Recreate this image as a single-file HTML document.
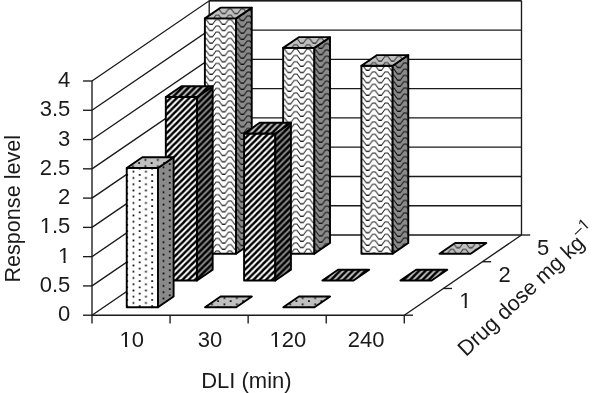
<!DOCTYPE html>
<html><head><meta charset="utf-8"><style>
html,body{margin:0;padding:0;background:#fff;}
svg{display:block;will-change:transform;}
text{font-family:"Liberation Sans", sans-serif;font-size:22px;fill:#1a1a1a;}
</style></head><body>
<svg width="600" height="393" viewBox="0 0 600 393">
<defs>
<pattern id="p1" patternUnits="userSpaceOnUse" x="211.13" y="19.65" width="12.5" height="6.25"><rect width="12.5" height="6.25" fill="#ffffff"/><polyline points="-13.90,-1.49 -11.10,-1.49 -7.65,-6.25 -4.85,-6.25 -1.40,-1.49 1.40,-1.49" fill="none" stroke="#0a0a0a" stroke-width="0.9"/><polyline points="-1.40,-1.49 1.40,-1.49 4.85,-6.25 7.65,-6.25 11.10,-1.49 13.90,-1.49" fill="none" stroke="#0a0a0a" stroke-width="0.9"/><polyline points="11.10,-1.49 13.90,-1.49 17.35,-6.25 20.15,-6.25 23.60,-1.49 26.40,-1.49" fill="none" stroke="#0a0a0a" stroke-width="0.9"/><polyline points="-13.90,4.76 -11.10,4.76 -7.65,0.00 -4.85,0.00 -1.40,4.76 1.40,4.76" fill="none" stroke="#0a0a0a" stroke-width="0.9"/><polyline points="-1.40,4.76 1.40,4.76 4.85,0.00 7.65,0.00 11.10,4.76 13.90,4.76" fill="none" stroke="#0a0a0a" stroke-width="0.9"/><polyline points="11.10,4.76 13.90,4.76 17.35,0.00 20.15,0.00 23.60,4.76 26.40,4.76" fill="none" stroke="#0a0a0a" stroke-width="0.9"/><polyline points="-13.90,11.01 -11.10,11.01 -7.65,6.25 -4.85,6.25 -1.40,11.01 1.40,11.01" fill="none" stroke="#0a0a0a" stroke-width="0.9"/><polyline points="-1.40,11.01 1.40,11.01 4.85,6.25 7.65,6.25 11.10,11.01 13.90,11.01" fill="none" stroke="#0a0a0a" stroke-width="0.9"/><polyline points="11.10,11.01 13.90,11.01 17.35,6.25 20.15,6.25 23.60,11.01 26.40,11.01" fill="none" stroke="#0a0a0a" stroke-width="0.9"/></pattern>
<pattern id="p2" patternUnits="userSpaceOnUse" x="242.36" y="9.66" width="12.5" height="6.25"><rect width="12.5" height="6.25" fill="#8a8a8a"/><polyline points="-13.90,-1.49 -11.10,-1.49 -7.65,-6.25 -4.85,-6.25 -1.40,-1.49 1.40,-1.49" fill="none" stroke="#000" stroke-width="0.9"/><polyline points="-1.40,-1.49 1.40,-1.49 4.85,-6.25 7.65,-6.25 11.10,-1.49 13.90,-1.49" fill="none" stroke="#000" stroke-width="0.9"/><polyline points="11.10,-1.49 13.90,-1.49 17.35,-6.25 20.15,-6.25 23.60,-1.49 26.40,-1.49" fill="none" stroke="#000" stroke-width="0.9"/><polyline points="-13.90,4.76 -11.10,4.76 -7.65,0.00 -4.85,0.00 -1.40,4.76 1.40,4.76" fill="none" stroke="#000" stroke-width="0.9"/><polyline points="-1.40,4.76 1.40,4.76 4.85,0.00 7.65,0.00 11.10,4.76 13.90,4.76" fill="none" stroke="#000" stroke-width="0.9"/><polyline points="11.10,4.76 13.90,4.76 17.35,0.00 20.15,0.00 23.60,4.76 26.40,4.76" fill="none" stroke="#000" stroke-width="0.9"/><polyline points="-13.90,11.01 -11.10,11.01 -7.65,6.25 -4.85,6.25 -1.40,11.01 1.40,11.01" fill="none" stroke="#000" stroke-width="0.9"/><polyline points="-1.40,11.01 1.40,11.01 4.85,6.25 7.65,6.25 11.10,11.01 13.90,11.01" fill="none" stroke="#000" stroke-width="0.9"/><polyline points="11.10,11.01 13.90,11.01 17.35,6.25 20.15,6.25 23.60,11.01 26.40,11.01" fill="none" stroke="#000" stroke-width="0.9"/></pattern>
<pattern id="p3" patternUnits="userSpaceOnUse" x="211.13" y="8.96" width="12.5" height="6.25"><rect width="12.5" height="6.25" fill="#c0c0c0"/><polyline points="-13.90,-1.49 -11.10,-1.49 -7.65,-6.25 -4.85,-6.25 -1.40,-1.49 1.40,-1.49" fill="none" stroke="#222" stroke-width="0.9"/><polyline points="-1.40,-1.49 1.40,-1.49 4.85,-6.25 7.65,-6.25 11.10,-1.49 13.90,-1.49" fill="none" stroke="#222" stroke-width="0.9"/><polyline points="11.10,-1.49 13.90,-1.49 17.35,-6.25 20.15,-6.25 23.60,-1.49 26.40,-1.49" fill="none" stroke="#222" stroke-width="0.9"/><polyline points="-13.90,4.76 -11.10,4.76 -7.65,0.00 -4.85,0.00 -1.40,4.76 1.40,4.76" fill="none" stroke="#222" stroke-width="0.9"/><polyline points="-1.40,4.76 1.40,4.76 4.85,0.00 7.65,0.00 11.10,4.76 13.90,4.76" fill="none" stroke="#222" stroke-width="0.9"/><polyline points="11.10,4.76 13.90,4.76 17.35,0.00 20.15,0.00 23.60,4.76 26.40,4.76" fill="none" stroke="#222" stroke-width="0.9"/><polyline points="-13.90,11.01 -11.10,11.01 -7.65,6.25 -4.85,6.25 -1.40,11.01 1.40,11.01" fill="none" stroke="#222" stroke-width="0.9"/><polyline points="-1.40,11.01 1.40,11.01 4.85,6.25 7.65,6.25 11.10,11.01 13.90,11.01" fill="none" stroke="#222" stroke-width="0.9"/><polyline points="11.10,11.01 13.90,11.01 17.35,6.25 20.15,6.25 23.60,11.01 26.40,11.01" fill="none" stroke="#222" stroke-width="0.9"/></pattern>
<pattern id="p4" patternUnits="userSpaceOnUse" x="289.40" y="49.16" width="12.5" height="6.25"><rect width="12.5" height="6.25" fill="#ffffff"/><polyline points="-13.90,-1.49 -11.10,-1.49 -7.65,-6.25 -4.85,-6.25 -1.40,-1.49 1.40,-1.49" fill="none" stroke="#0a0a0a" stroke-width="0.9"/><polyline points="-1.40,-1.49 1.40,-1.49 4.85,-6.25 7.65,-6.25 11.10,-1.49 13.90,-1.49" fill="none" stroke="#0a0a0a" stroke-width="0.9"/><polyline points="11.10,-1.49 13.90,-1.49 17.35,-6.25 20.15,-6.25 23.60,-1.49 26.40,-1.49" fill="none" stroke="#0a0a0a" stroke-width="0.9"/><polyline points="-13.90,4.76 -11.10,4.76 -7.65,0.00 -4.85,0.00 -1.40,4.76 1.40,4.76" fill="none" stroke="#0a0a0a" stroke-width="0.9"/><polyline points="-1.40,4.76 1.40,4.76 4.85,0.00 7.65,0.00 11.10,4.76 13.90,4.76" fill="none" stroke="#0a0a0a" stroke-width="0.9"/><polyline points="11.10,4.76 13.90,4.76 17.35,0.00 20.15,0.00 23.60,4.76 26.40,4.76" fill="none" stroke="#0a0a0a" stroke-width="0.9"/><polyline points="-13.90,11.01 -11.10,11.01 -7.65,6.25 -4.85,6.25 -1.40,11.01 1.40,11.01" fill="none" stroke="#0a0a0a" stroke-width="0.9"/><polyline points="-1.40,11.01 1.40,11.01 4.85,6.25 7.65,6.25 11.10,11.01 13.90,11.01" fill="none" stroke="#0a0a0a" stroke-width="0.9"/><polyline points="11.10,11.01 13.90,11.01 17.35,6.25 20.15,6.25 23.60,11.01 26.40,11.01" fill="none" stroke="#0a0a0a" stroke-width="0.9"/></pattern>
<pattern id="p5" patternUnits="userSpaceOnUse" x="320.63" y="37.47" width="12.5" height="6.25"><rect width="12.5" height="6.25" fill="#8a8a8a"/><polyline points="-13.90,-1.49 -11.10,-1.49 -7.65,-6.25 -4.85,-6.25 -1.40,-1.49 1.40,-1.49" fill="none" stroke="#000" stroke-width="0.9"/><polyline points="-1.40,-1.49 1.40,-1.49 4.85,-6.25 7.65,-6.25 11.10,-1.49 13.90,-1.49" fill="none" stroke="#000" stroke-width="0.9"/><polyline points="11.10,-1.49 13.90,-1.49 17.35,-6.25 20.15,-6.25 23.60,-1.49 26.40,-1.49" fill="none" stroke="#000" stroke-width="0.9"/><polyline points="-13.90,4.76 -11.10,4.76 -7.65,0.00 -4.85,0.00 -1.40,4.76 1.40,4.76" fill="none" stroke="#000" stroke-width="0.9"/><polyline points="-1.40,4.76 1.40,4.76 4.85,0.00 7.65,0.00 11.10,4.76 13.90,4.76" fill="none" stroke="#000" stroke-width="0.9"/><polyline points="11.10,4.76 13.90,4.76 17.35,0.00 20.15,0.00 23.60,4.76 26.40,4.76" fill="none" stroke="#000" stroke-width="0.9"/><polyline points="-13.90,11.01 -11.10,11.01 -7.65,6.25 -4.85,6.25 -1.40,11.01 1.40,11.01" fill="none" stroke="#000" stroke-width="0.9"/><polyline points="-1.40,11.01 1.40,11.01 4.85,6.25 7.65,6.25 11.10,11.01 13.90,11.01" fill="none" stroke="#000" stroke-width="0.9"/><polyline points="11.10,11.01 13.90,11.01 17.35,6.25 20.15,6.25 23.60,11.01 26.40,11.01" fill="none" stroke="#000" stroke-width="0.9"/></pattern>
<pattern id="p6" patternUnits="userSpaceOnUse" x="289.40" y="38.47" width="12.5" height="6.25"><rect width="12.5" height="6.25" fill="#c0c0c0"/><polyline points="-13.90,-1.49 -11.10,-1.49 -7.65,-6.25 -4.85,-6.25 -1.40,-1.49 1.40,-1.49" fill="none" stroke="#222" stroke-width="0.9"/><polyline points="-1.40,-1.49 1.40,-1.49 4.85,-6.25 7.65,-6.25 11.10,-1.49 13.90,-1.49" fill="none" stroke="#222" stroke-width="0.9"/><polyline points="11.10,-1.49 13.90,-1.49 17.35,-6.25 20.15,-6.25 23.60,-1.49 26.40,-1.49" fill="none" stroke="#222" stroke-width="0.9"/><polyline points="-13.90,4.76 -11.10,4.76 -7.65,0.00 -4.85,0.00 -1.40,4.76 1.40,4.76" fill="none" stroke="#222" stroke-width="0.9"/><polyline points="-1.40,4.76 1.40,4.76 4.85,0.00 7.65,0.00 11.10,4.76 13.90,4.76" fill="none" stroke="#222" stroke-width="0.9"/><polyline points="11.10,4.76 13.90,4.76 17.35,0.00 20.15,0.00 23.60,4.76 26.40,4.76" fill="none" stroke="#222" stroke-width="0.9"/><polyline points="-13.90,11.01 -11.10,11.01 -7.65,6.25 -4.85,6.25 -1.40,11.01 1.40,11.01" fill="none" stroke="#222" stroke-width="0.9"/><polyline points="-1.40,11.01 1.40,11.01 4.85,6.25 7.65,6.25 11.10,11.01 13.90,11.01" fill="none" stroke="#222" stroke-width="0.9"/><polyline points="11.10,11.01 13.90,11.01 17.35,6.25 20.15,6.25 23.60,11.01 26.40,11.01" fill="none" stroke="#222" stroke-width="0.9"/></pattern>
<pattern id="p7" patternUnits="userSpaceOnUse" x="367.67" y="65.58" width="12.5" height="6.25"><rect width="12.5" height="6.25" fill="#ffffff"/><polyline points="-13.90,-1.49 -11.10,-1.49 -7.65,-6.25 -4.85,-6.25 -1.40,-1.49 1.40,-1.49" fill="none" stroke="#0a0a0a" stroke-width="0.9"/><polyline points="-1.40,-1.49 1.40,-1.49 4.85,-6.25 7.65,-6.25 11.10,-1.49 13.90,-1.49" fill="none" stroke="#0a0a0a" stroke-width="0.9"/><polyline points="11.10,-1.49 13.90,-1.49 17.35,-6.25 20.15,-6.25 23.60,-1.49 26.40,-1.49" fill="none" stroke="#0a0a0a" stroke-width="0.9"/><polyline points="-13.90,4.76 -11.10,4.76 -7.65,0.00 -4.85,0.00 -1.40,4.76 1.40,4.76" fill="none" stroke="#0a0a0a" stroke-width="0.9"/><polyline points="-1.40,4.76 1.40,4.76 4.85,0.00 7.65,0.00 11.10,4.76 13.90,4.76" fill="none" stroke="#0a0a0a" stroke-width="0.9"/><polyline points="11.10,4.76 13.90,4.76 17.35,0.00 20.15,0.00 23.60,4.76 26.40,4.76" fill="none" stroke="#0a0a0a" stroke-width="0.9"/><polyline points="-13.90,11.01 -11.10,11.01 -7.65,6.25 -4.85,6.25 -1.40,11.01 1.40,11.01" fill="none" stroke="#0a0a0a" stroke-width="0.9"/><polyline points="-1.40,11.01 1.40,11.01 4.85,6.25 7.65,6.25 11.10,11.01 13.90,11.01" fill="none" stroke="#0a0a0a" stroke-width="0.9"/><polyline points="11.10,11.01 13.90,11.01 17.35,6.25 20.15,6.25 23.60,11.01 26.40,11.01" fill="none" stroke="#0a0a0a" stroke-width="0.9"/></pattern>
<pattern id="p8" patternUnits="userSpaceOnUse" x="398.90" y="56.68" width="12.5" height="6.25"><rect width="12.5" height="6.25" fill="#8a8a8a"/><polyline points="-13.90,-1.49 -11.10,-1.49 -7.65,-6.25 -4.85,-6.25 -1.40,-1.49 1.40,-1.49" fill="none" stroke="#000" stroke-width="0.9"/><polyline points="-1.40,-1.49 1.40,-1.49 4.85,-6.25 7.65,-6.25 11.10,-1.49 13.90,-1.49" fill="none" stroke="#000" stroke-width="0.9"/><polyline points="11.10,-1.49 13.90,-1.49 17.35,-6.25 20.15,-6.25 23.60,-1.49 26.40,-1.49" fill="none" stroke="#000" stroke-width="0.9"/><polyline points="-13.90,4.76 -11.10,4.76 -7.65,0.00 -4.85,0.00 -1.40,4.76 1.40,4.76" fill="none" stroke="#000" stroke-width="0.9"/><polyline points="-1.40,4.76 1.40,4.76 4.85,0.00 7.65,0.00 11.10,4.76 13.90,4.76" fill="none" stroke="#000" stroke-width="0.9"/><polyline points="11.10,4.76 13.90,4.76 17.35,0.00 20.15,0.00 23.60,4.76 26.40,4.76" fill="none" stroke="#000" stroke-width="0.9"/><polyline points="-13.90,11.01 -11.10,11.01 -7.65,6.25 -4.85,6.25 -1.40,11.01 1.40,11.01" fill="none" stroke="#000" stroke-width="0.9"/><polyline points="-1.40,11.01 1.40,11.01 4.85,6.25 7.65,6.25 11.10,11.01 13.90,11.01" fill="none" stroke="#000" stroke-width="0.9"/><polyline points="11.10,11.01 13.90,11.01 17.35,6.25 20.15,6.25 23.60,11.01 26.40,11.01" fill="none" stroke="#000" stroke-width="0.9"/></pattern>
<pattern id="p9" patternUnits="userSpaceOnUse" x="367.67" y="56.38" width="12.5" height="6.25"><rect width="12.5" height="6.25" fill="#c0c0c0"/><polyline points="-13.90,-1.49 -11.10,-1.49 -7.65,-6.25 -4.85,-6.25 -1.40,-1.49 1.40,-1.49" fill="none" stroke="#222" stroke-width="0.9"/><polyline points="-1.40,-1.49 1.40,-1.49 4.85,-6.25 7.65,-6.25 11.10,-1.49 13.90,-1.49" fill="none" stroke="#222" stroke-width="0.9"/><polyline points="11.10,-1.49 13.90,-1.49 17.35,-6.25 20.15,-6.25 23.60,-1.49 26.40,-1.49" fill="none" stroke="#222" stroke-width="0.9"/><polyline points="-13.90,4.76 -11.10,4.76 -7.65,0.00 -4.85,0.00 -1.40,4.76 1.40,4.76" fill="none" stroke="#222" stroke-width="0.9"/><polyline points="-1.40,4.76 1.40,4.76 4.85,0.00 7.65,0.00 11.10,4.76 13.90,4.76" fill="none" stroke="#222" stroke-width="0.9"/><polyline points="11.10,4.76 13.90,4.76 17.35,0.00 20.15,0.00 23.60,4.76 26.40,4.76" fill="none" stroke="#222" stroke-width="0.9"/><polyline points="-13.90,11.01 -11.10,11.01 -7.65,6.25 -4.85,6.25 -1.40,11.01 1.40,11.01" fill="none" stroke="#222" stroke-width="0.9"/><polyline points="-1.40,11.01 1.40,11.01 4.85,6.25 7.65,6.25 11.10,11.01 13.90,11.01" fill="none" stroke="#222" stroke-width="0.9"/><polyline points="11.10,11.01 13.90,11.01 17.35,6.25 20.15,6.25 23.60,11.01 26.40,11.01" fill="none" stroke="#222" stroke-width="0.9"/></pattern>
<pattern id="p10" patternUnits="userSpaceOnUse" x="445.74" y="243.13" width="12.5" height="6.25"><rect width="12.5" height="6.25" fill="#c0c0c0"/><polyline points="-13.90,-1.49 -11.10,-1.49 -7.65,-6.25 -4.85,-6.25 -1.40,-1.49 1.40,-1.49" fill="none" stroke="#222" stroke-width="0.9"/><polyline points="-1.40,-1.49 1.40,-1.49 4.85,-6.25 7.65,-6.25 11.10,-1.49 13.90,-1.49" fill="none" stroke="#222" stroke-width="0.9"/><polyline points="11.10,-1.49 13.90,-1.49 17.35,-6.25 20.15,-6.25 23.60,-1.49 26.40,-1.49" fill="none" stroke="#222" stroke-width="0.9"/><polyline points="-13.90,4.76 -11.10,4.76 -7.65,0.00 -4.85,0.00 -1.40,4.76 1.40,4.76" fill="none" stroke="#222" stroke-width="0.9"/><polyline points="-1.40,4.76 1.40,4.76 4.85,0.00 7.65,0.00 11.10,4.76 13.90,4.76" fill="none" stroke="#222" stroke-width="0.9"/><polyline points="11.10,4.76 13.90,4.76 17.35,0.00 20.15,0.00 23.60,4.76 26.40,4.76" fill="none" stroke="#222" stroke-width="0.9"/><polyline points="-13.90,11.01 -11.10,11.01 -7.65,6.25 -4.85,6.25 -1.40,11.01 1.40,11.01" fill="none" stroke="#222" stroke-width="0.9"/><polyline points="-1.40,11.01 1.40,11.01 4.85,6.25 7.65,6.25 11.10,11.01 13.90,11.01" fill="none" stroke="#222" stroke-width="0.9"/><polyline points="11.10,11.01 13.90,11.01 17.35,6.25 20.15,6.25 23.60,11.01 26.40,11.01" fill="none" stroke="#222" stroke-width="0.9"/></pattern>
<pattern id="p11" patternUnits="userSpaceOnUse" x="171.51" y="97.01" width="6.25" height="6.25"><rect width="6.25" height="6.25" fill="#ffffff"/><line x1="-26.250" y1="20" x2="13.750" y2="-20" stroke="#000" stroke-width="2.369"/><line x1="-20.000" y1="20" x2="20.000" y2="-20" stroke="#000" stroke-width="2.369"/><line x1="-13.750" y1="20" x2="26.250" y2="-20" stroke="#000" stroke-width="2.369"/><line x1="-7.500" y1="20" x2="32.500" y2="-20" stroke="#000" stroke-width="2.369"/><line x1="-1.250" y1="20" x2="38.750" y2="-20" stroke="#000" stroke-width="2.369"/></pattern>
<pattern id="p12" patternUnits="userSpaceOnUse" x="202.44" y="86.32" width="6.25" height="6.25"><rect width="6.25" height="6.25" fill="#8a8a8a"/><line x1="-26.250" y1="20" x2="13.750" y2="-20" stroke="#000" stroke-width="2.475"/><line x1="-20.000" y1="20" x2="20.000" y2="-20" stroke="#000" stroke-width="2.475"/><line x1="-13.750" y1="20" x2="26.250" y2="-20" stroke="#000" stroke-width="2.475"/><line x1="-7.500" y1="20" x2="32.500" y2="-20" stroke="#000" stroke-width="2.475"/><line x1="-1.250" y1="20" x2="38.750" y2="-20" stroke="#000" stroke-width="2.475"/></pattern>
<pattern id="p13" patternUnits="userSpaceOnUse" x="171.06" y="86.32" width="6.25" height="6.25"><rect width="6.25" height="6.25" fill="#c0c0c0"/><line x1="-26.250" y1="20" x2="13.750" y2="-20" stroke="#000" stroke-width="2.475"/><line x1="-20.000" y1="20" x2="20.000" y2="-20" stroke="#000" stroke-width="2.475"/><line x1="-13.750" y1="20" x2="26.250" y2="-20" stroke="#000" stroke-width="2.475"/><line x1="-7.500" y1="20" x2="32.500" y2="-20" stroke="#000" stroke-width="2.475"/><line x1="-1.250" y1="20" x2="38.750" y2="-20" stroke="#000" stroke-width="2.475"/></pattern>
<pattern id="p14" patternUnits="userSpaceOnUse" x="249.78" y="133.49" width="6.25" height="6.25"><rect width="6.25" height="6.25" fill="#ffffff"/><line x1="-26.250" y1="20" x2="13.750" y2="-20" stroke="#000" stroke-width="2.369"/><line x1="-20.000" y1="20" x2="20.000" y2="-20" stroke="#000" stroke-width="2.369"/><line x1="-13.750" y1="20" x2="26.250" y2="-20" stroke="#000" stroke-width="2.369"/><line x1="-7.500" y1="20" x2="32.500" y2="-20" stroke="#000" stroke-width="2.369"/><line x1="-1.250" y1="20" x2="38.750" y2="-20" stroke="#000" stroke-width="2.369"/></pattern>
<pattern id="p15" patternUnits="userSpaceOnUse" x="280.71" y="122.80" width="6.25" height="6.25"><rect width="6.25" height="6.25" fill="#8a8a8a"/><line x1="-26.250" y1="20" x2="13.750" y2="-20" stroke="#000" stroke-width="2.475"/><line x1="-20.000" y1="20" x2="20.000" y2="-20" stroke="#000" stroke-width="2.475"/><line x1="-13.750" y1="20" x2="26.250" y2="-20" stroke="#000" stroke-width="2.475"/><line x1="-7.500" y1="20" x2="32.500" y2="-20" stroke="#000" stroke-width="2.475"/><line x1="-1.250" y1="20" x2="38.750" y2="-20" stroke="#000" stroke-width="2.475"/></pattern>
<pattern id="p16" patternUnits="userSpaceOnUse" x="251.03" y="122.80" width="6.25" height="6.25"><rect width="6.25" height="6.25" fill="#c0c0c0"/><line x1="-26.250" y1="20" x2="13.750" y2="-20" stroke="#000" stroke-width="2.475"/><line x1="-20.000" y1="20" x2="20.000" y2="-20" stroke="#000" stroke-width="2.475"/><line x1="-13.750" y1="20" x2="26.250" y2="-20" stroke="#000" stroke-width="2.475"/><line x1="-7.500" y1="20" x2="32.500" y2="-20" stroke="#000" stroke-width="2.475"/><line x1="-1.250" y1="20" x2="38.750" y2="-20" stroke="#000" stroke-width="2.475"/></pattern>
<pattern id="p17" patternUnits="userSpaceOnUse" x="328.70" y="269.76" width="6.25" height="6.25"><rect width="6.25" height="6.25" fill="#c0c0c0"/><line x1="-26.250" y1="20" x2="13.750" y2="-20" stroke="#000" stroke-width="2.475"/><line x1="-20.000" y1="20" x2="20.000" y2="-20" stroke="#000" stroke-width="2.475"/><line x1="-13.750" y1="20" x2="26.250" y2="-20" stroke="#000" stroke-width="2.475"/><line x1="-7.500" y1="20" x2="32.500" y2="-20" stroke="#000" stroke-width="2.475"/><line x1="-1.250" y1="20" x2="38.750" y2="-20" stroke="#000" stroke-width="2.475"/></pattern>
<pattern id="p18" patternUnits="userSpaceOnUse" x="407.67" y="269.76" width="6.25" height="6.25"><rect width="6.25" height="6.25" fill="#c0c0c0"/><line x1="-26.250" y1="20" x2="13.750" y2="-20" stroke="#000" stroke-width="2.475"/><line x1="-20.000" y1="20" x2="20.000" y2="-20" stroke="#000" stroke-width="2.475"/><line x1="-13.750" y1="20" x2="26.250" y2="-20" stroke="#000" stroke-width="2.475"/><line x1="-7.500" y1="20" x2="32.500" y2="-20" stroke="#000" stroke-width="2.475"/><line x1="-1.250" y1="20" x2="38.750" y2="-20" stroke="#000" stroke-width="2.475"/></pattern>
<pattern id="p19" patternUnits="userSpaceOnUse" x="127.19" y="168.60" width="12.5" height="6.25"><rect width="12.5" height="6.25" fill="#ffffff"/><rect x="-0.850" y="-0.850" width="1.7" height="1.7" fill="#000"/><rect x="11.650" y="-0.850" width="1.7" height="1.7" fill="#000"/><rect x="-0.850" y="5.400" width="1.7" height="1.7" fill="#000"/><rect x="11.650" y="5.400" width="1.7" height="1.7" fill="#000"/><rect x="5.400" y="2.275" width="1.7" height="1.7" fill="#000"/></pattern>
<pattern id="p20" patternUnits="userSpaceOnUse" x="157.27" y="157.81" width="12.5" height="6.25"><rect width="12.5" height="6.25" fill="#8a8a8a"/><rect x="-0.850" y="-0.850" width="1.7" height="1.7" fill="#000"/><rect x="11.650" y="-0.850" width="1.7" height="1.7" fill="#000"/><rect x="-0.850" y="5.400" width="1.7" height="1.7" fill="#000"/><rect x="11.650" y="5.400" width="1.7" height="1.7" fill="#000"/><rect x="5.400" y="2.275" width="1.7" height="1.7" fill="#000"/></pattern>
<pattern id="p21" patternUnits="userSpaceOnUse" x="126.64" y="156.81" width="12.5" height="6.25"><rect width="12.5" height="6.25" fill="#c0c0c0"/><rect x="-0.850" y="-0.850" width="1.7" height="1.7" fill="#000"/><rect x="11.650" y="-0.850" width="1.7" height="1.7" fill="#000"/><rect x="-0.850" y="5.400" width="1.7" height="1.7" fill="#000"/><rect x="11.650" y="5.400" width="1.7" height="1.7" fill="#000"/><rect x="5.400" y="2.275" width="1.7" height="1.7" fill="#000"/></pattern>
<pattern id="p22" patternUnits="userSpaceOnUse" x="205.66" y="294.89" width="12.5" height="6.25"><rect width="12.5" height="6.25" fill="#c0c0c0"/><rect x="-0.850" y="-0.850" width="1.7" height="1.7" fill="#000"/><rect x="11.650" y="-0.850" width="1.7" height="1.7" fill="#000"/><rect x="-0.850" y="5.400" width="1.7" height="1.7" fill="#000"/><rect x="11.650" y="5.400" width="1.7" height="1.7" fill="#000"/><rect x="5.400" y="2.275" width="1.7" height="1.7" fill="#000"/></pattern>
<pattern id="p23" patternUnits="userSpaceOnUse" x="283.93" y="294.89" width="12.5" height="6.25"><rect width="12.5" height="6.25" fill="#c0c0c0"/><rect x="-0.850" y="-0.850" width="1.7" height="1.7" fill="#000"/><rect x="11.650" y="-0.850" width="1.7" height="1.7" fill="#000"/><rect x="-0.850" y="5.400" width="1.7" height="1.7" fill="#000"/><rect x="11.650" y="5.400" width="1.7" height="1.7" fill="#000"/><rect x="5.400" y="2.275" width="1.7" height="1.7" fill="#000"/></pattern>
</defs>
<rect width="600" height="393" fill="#fff"/>
<g stroke="#1a1a1a" stroke-width="1.35" fill="none">
<polyline points="92.00,315.20 209.21,235.01 521.49,235.01"/>
<polyline points="92.00,285.93 209.21,205.73 521.49,205.73"/>
<polyline points="92.00,256.65 209.21,176.46 521.49,176.46"/>
<polyline points="92.00,227.38 209.21,147.19 521.49,147.19"/>
<polyline points="92.00,198.10 209.21,117.91 521.49,117.91"/>
<polyline points="92.00,168.82 209.21,88.63 521.49,88.63"/>
<polyline points="92.00,139.55 209.21,59.36 521.49,59.36"/>
<polyline points="92.00,110.28 209.21,30.09 521.49,30.09"/>
<polyline points="92.00,81.00 209.21,0.81 521.49,0.81"/>
<line x1="209.21" y1="0.50" x2="521.49" y2="0.50"/>
<line x1="209.21" y1="235.01" x2="209.21" y2="0.81"/>
<line x1="521.49" y1="235.01" x2="521.49" y2="0.81"/>
<line x1="92.00" y1="81.00" x2="92.00" y2="323.60"/>
<line x1="83.00" y1="315.20" x2="92.00" y2="315.20"/>
<line x1="83.00" y1="285.93" x2="92.00" y2="285.93"/>
<line x1="83.00" y1="256.65" x2="92.00" y2="256.65"/>
<line x1="83.00" y1="227.38" x2="92.00" y2="227.38"/>
<line x1="83.00" y1="198.10" x2="92.00" y2="198.10"/>
<line x1="83.00" y1="168.82" x2="92.00" y2="168.82"/>
<line x1="83.00" y1="139.55" x2="92.00" y2="139.55"/>
<line x1="83.00" y1="110.28" x2="92.00" y2="110.28"/>
<line x1="83.00" y1="81.00" x2="92.00" y2="81.00"/>
<line x1="92.00" y1="315.20" x2="404.28" y2="315.20"/>
<line x1="404.28" y1="315.20" x2="521.49" y2="235.01"/>
<line x1="170.07" y1="315.20" x2="170.07" y2="323.60"/>
<line x1="248.14" y1="315.20" x2="248.14" y2="323.60"/>
<line x1="326.21" y1="315.20" x2="326.21" y2="323.60"/>
<line x1="404.28" y1="315.20" x2="404.28" y2="323.60"/>
<line x1="404.28" y1="315.20" x2="412.98" y2="315.20"/>
<line x1="443.35" y1="288.47" x2="452.05" y2="288.47"/>
<line x1="482.42" y1="261.74" x2="491.12" y2="261.74"/>
<line x1="521.49" y1="235.01" x2="530.19" y2="235.01"/>
</g>
<polygon points="148,160 166,160 166,140 148,140" fill="#fff"/>
<polygon points="204.88,253.72 236.11,253.72 236.11,18.35 204.88,18.35" fill="url(#p1)" stroke="#000" stroke-width="1.9" stroke-linejoin="round"/>
<polygon points="236.11,253.72 251.74,243.03 251.74,7.66 236.11,18.35" fill="url(#p2)" stroke="#000" stroke-width="1.9" stroke-linejoin="round"/>
<polygon points="204.88,18.35 236.11,18.35 251.74,7.66 220.51,7.66" fill="url(#p3)" stroke="#000" stroke-width="1.9" stroke-linejoin="round"/>
<polygon points="283.15,253.72 314.38,253.72 314.38,47.86 283.15,47.86" fill="url(#p4)" stroke="#000" stroke-width="1.9" stroke-linejoin="round"/>
<polygon points="314.38,253.72 330.01,243.03 330.01,37.17 314.38,47.86" fill="url(#p5)" stroke="#000" stroke-width="1.9" stroke-linejoin="round"/>
<polygon points="283.15,47.86 314.38,47.86 330.01,37.17 298.78,37.17" fill="url(#p6)" stroke="#000" stroke-width="1.9" stroke-linejoin="round"/>
<polygon points="361.42,253.72 392.65,253.72 392.65,65.78 361.42,65.78" fill="url(#p7)" stroke="#000" stroke-width="1.9" stroke-linejoin="round"/>
<polygon points="392.65,253.72 408.28,243.03 408.28,55.08 392.65,65.78" fill="url(#p8)" stroke="#000" stroke-width="1.9" stroke-linejoin="round"/>
<polygon points="361.42,65.78 392.65,65.78 408.28,55.08 377.05,55.08" fill="url(#p9)" stroke="#000" stroke-width="1.9" stroke-linejoin="round"/>
<polygon points="439.49,253.72 470.72,253.72 486.35,243.03 455.12,243.03" fill="url(#p10)" stroke="#000" stroke-width="1.9" stroke-linejoin="round"/>
<polygon points="165.81,280.45 197.04,280.45 197.04,97.01 165.81,97.01" fill="url(#p11)" stroke="#000" stroke-width="1.9" stroke-linejoin="round"/>
<polygon points="197.04,280.45 212.67,269.76 212.67,86.32 197.04,97.01" fill="url(#p12)" stroke="#000" stroke-width="1.9" stroke-linejoin="round"/>
<polygon points="165.81,97.01 197.04,97.01 212.67,86.32 181.44,86.32" fill="url(#p13)" stroke="#000" stroke-width="1.9" stroke-linejoin="round"/>
<polygon points="244.08,280.45 275.31,280.45 275.31,133.49 244.08,133.49" fill="url(#p14)" stroke="#000" stroke-width="1.9" stroke-linejoin="round"/>
<polygon points="275.31,280.45 290.94,269.76 290.94,122.80 275.31,133.49" fill="url(#p15)" stroke="#000" stroke-width="1.9" stroke-linejoin="round"/>
<polygon points="244.08,133.49 275.31,133.49 290.94,122.80 259.71,122.80" fill="url(#p16)" stroke="#000" stroke-width="1.9" stroke-linejoin="round"/>
<polygon points="322.35,280.45 353.58,280.45 369.21,269.76 337.98,269.76" fill="url(#p17)" stroke="#000" stroke-width="1.9" stroke-linejoin="round"/>
<polygon points="400.42,280.45 431.65,280.45 447.28,269.76 416.05,269.76" fill="url(#p18)" stroke="#000" stroke-width="1.9" stroke-linejoin="round"/>
<polygon points="126.74,307.18 157.97,307.18 157.97,167.95 126.74,167.95" fill="url(#p19)" stroke="#000" stroke-width="1.9" stroke-linejoin="round"/>
<polygon points="157.97,307.18 173.60,296.49 173.60,157.26 157.97,167.95" fill="url(#p20)" stroke="#000" stroke-width="1.9" stroke-linejoin="round"/>
<polygon points="126.74,167.95 157.97,167.95 173.60,157.26 142.37,157.26" fill="url(#p21)" stroke="#000" stroke-width="1.9" stroke-linejoin="round"/>
<polygon points="205.01,307.18 236.24,307.18 251.87,296.49 220.64,296.49" fill="url(#p22)" stroke="#000" stroke-width="1.9" stroke-linejoin="round"/>
<polygon points="283.28,307.18 314.51,307.18 330.14,296.49 298.91,296.49" fill="url(#p23)" stroke="#000" stroke-width="1.9" stroke-linejoin="round"/>
<text x="70.3" y="321.30" text-anchor="end">0</text>
<text x="70.3" y="292.03" text-anchor="end">0.5</text>
<text x="70.3" y="262.75" text-anchor="end">1</text>
<text x="70.3" y="233.47" text-anchor="end">1.5</text>
<text x="70.3" y="204.20" text-anchor="end">2</text>
<text x="70.3" y="174.92" text-anchor="end">2.5</text>
<text x="70.3" y="145.65" text-anchor="end">3</text>
<text x="70.3" y="116.38" text-anchor="end">3.5</text>
<text x="70.3" y="87.10" text-anchor="end">4</text>
<text x="131.84" y="346.6" text-anchor="middle">10</text>
<text x="209.91" y="346.6" text-anchor="middle">30</text>
<text x="287.97" y="346.6" text-anchor="middle">120</text>
<text x="366.05" y="346.6" text-anchor="middle">240</text>
<text x="465.3" y="308" text-anchor="middle">1</text>
<text x="504.6" y="281.6" text-anchor="middle">2</text>
<text x="543" y="254.5" text-anchor="middle">5</text>
<text x="246.4" y="387.6" text-anchor="middle">DLI (min)</text>
<text transform="translate(19.8,208.75) rotate(-90)" text-anchor="middle" style="font-size:21.6px">Response level</text>
<text transform="translate(465.9,357.3) rotate(-43.2)" style="font-size:21.6px">Drug dose mg kg<tspan dx="-0.8" dy="-11" style="font-size:16px">–1</tspan></text>
<rect x="58.23" y="260.01" width="5.26" height="3.34" fill="#fff"/><rect x="65.63" y="260.01" width="4.38" height="3.34" fill="#fff"/>
<rect x="39.88" y="230.73" width="5.26" height="3.34" fill="#fff"/><rect x="47.28" y="230.73" width="4.38" height="3.34" fill="#fff"/>
<rect x="119.77" y="343.86" width="5.26" height="3.34" fill="#fff"/><rect x="127.17" y="343.86" width="4.38" height="3.34" fill="#fff"/>
<rect x="269.79" y="343.86" width="5.26" height="3.34" fill="#fff"/><rect x="277.19" y="343.86" width="4.38" height="3.34" fill="#fff"/>
<rect x="459.35" y="305.26" width="5.26" height="3.34" fill="#fff"/><rect x="466.75" y="305.26" width="4.38" height="3.34" fill="#fff"/>
<g transform="translate(465.9,357.3) rotate(-43.2)"><rect x="172.25" y="-13.30" width="4.20" height="2.90" fill="#fff"/><rect x="178.07" y="-13.30" width="3.38" height="2.90" fill="#fff"/></g>
</svg>
</body></html>
